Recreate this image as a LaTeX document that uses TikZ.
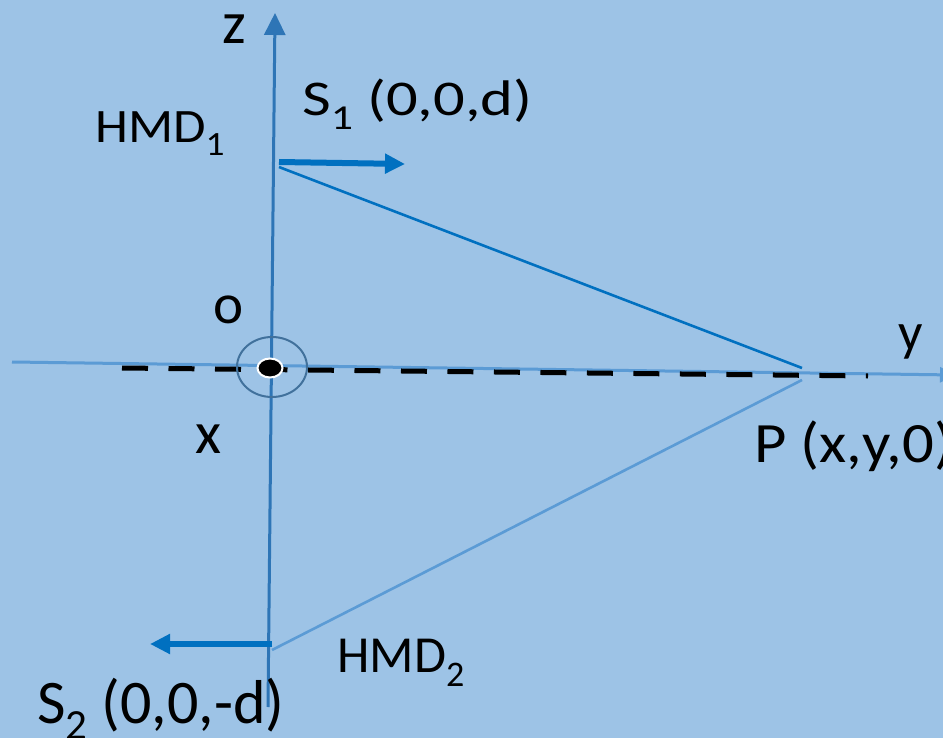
\documentclass[tikz,border=0pt]{standalone}
\usepackage{fontspec}
\setmainfont{Carlito}
\newfontfamily\widefont[FakeStretch=1.25]{Carlito}
\newfontfamily\midfont[FakeStretch=1.1]{Carlito}
\usepackage{tikz}
\usetikzlibrary{arrows.meta}
\definecolor{bgblue}{HTML}{9DC3E6}
\definecolor{zblue}{HTML}{2E75B6}
\definecolor{yblue}{HTML}{5B9BD5}
\definecolor{deepblue}{HTML}{0070C0}
\definecolor{ringblue}{HTML}{41719C}
\newcommand{\lowsub}[2]{\raisebox{-0.27em}{\fontsize{#1}{#1}\selectfont #2}}

\begin{document}
\begin{tikzpicture}[
    x=1pt,y=-1pt,
    axis/.style={line width=3pt},
    beam/.style={line width=2.6pt},
    move/.style={line width=6pt,draw=deepblue,-{Triangle[length=20pt,width=19pt]}},
    lbl/.style={inner sep=0pt,text=black}
  ]
    \fill[bgblue] (0,0) rectangle (943,738);
    \clip (0,0) rectangle (943,738);
    % points
    \coordinate (ztop) at (275,13);
    \coordinate (zbot) at (268,707);
    \coordinate (yleft) at (12,362);
    \coordinate (yright) at (955,375);
    \coordinate (dleft) at (122,368);
    \coordinate (dright) at (868,376);
    \coordinate (O) at (270,368);
    \coordinate (S1) at (279,167);
    \coordinate (S2) at (272,650);
    \coordinate (P1) at (802,368);
    \coordinate (P2) at (802,380);
    \coordinate (S1a) at (279,162);
    \coordinate (S1b) at (405,164);
    \coordinate (S2a) at (272,644);
    \coordinate (S2b) at (150,644);
    % axes
    \draw[axis,draw=yblue,-{Triangle[length=15pt,width=15pt]}] (yleft) -- (yright);
    \draw[line width=5pt,dash pattern=on 26pt off 20.5pt] (dleft) -- (dright);
    \draw[axis,draw=zblue,-{Triangle[length=22pt,width=21pt]}] (zbot) -- (ztop);
    % origin
    \draw[line width=2pt,draw=ringblue] (272,367) ellipse [x radius=35,y radius=30];
    \filldraw[fill=black,draw=white,line width=2pt] (O) ellipse [x radius=12.5,y radius=9.5];
    % paths to P
    \draw[beam,draw=deepblue] (S1) -- (P1);
    \draw[beam,draw=yblue] (S2) -- (P2);
    \draw[move] (S1a) -- (S1b);
    \draw[move] (S2a) -- (S2b);
    % labels
    \node[lbl,font=\fontsize{60}{60}\selectfont] (zlab) at (234,29) {z};
    \node[lbl,font=\fontsize{54}{54}\selectfont] (ylab) at (911,342) {y};
    \node[lbl,font=\fontsize{57}{57}\selectfont] (olab) at (229,310) {o};
    \node[lbl,font=\fontsize{60}{60}\selectfont] (xlab) at (208,439) {x};
    \node[lbl,anchor=base west,font=\midfont\fontsize{48}{48}\selectfont] (hmd1) at (95,143) {HMD\lowsub{34}{1}};
    \node[lbl,anchor=base west,font=\widefont\fontsize{50}{50}\selectfont] (s1lab) at (302,116) {S\lowsub{35}{1} (0,0,d)};
    \node[lbl,anchor=base west,font=\midfont\fontsize{57}{57}\selectfont] (plab) at (754,462) {P (x,y,0)};
    \node[lbl,anchor=base west,font=\fontsize{52}{52}\selectfont] (hmd2) at (337,672) {HMD\lowsub{36}{2}};
    \node[lbl,anchor=base west,font=\fontsize{62}{62}\selectfont] (s2lab) at (37,723) {S\lowsub{43}{2} (0,0,-d)};
  \end{tikzpicture}
\end{document}
